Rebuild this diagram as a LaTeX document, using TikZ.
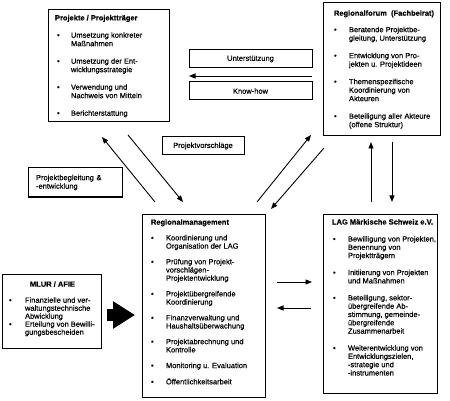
\documentclass[tikz,border=0pt]{standalone}
\usepackage{fontspec}
\setmainfont{Liberation Sans}
\newfontfamily\itf{Liberation Sans}[FakeBold=0.35]
\usetikzlibrary{arrows.meta}
\newcommand\bx{\textbullet}
\begin{document}
\begin{tikzpicture}[x=1pt,y=-1pt,
  box/.style={draw=black,line width=1pt,inner sep=0pt,outer sep=0pt,anchor=north west},
  txt/.style={inner sep=0pt,outer sep=0pt,anchor=base west,font=\itf\fontsize{7.5}{8.5}\selectfont},
  lbl/.style={box,font=\itf\fontsize{7.5}{8.5}\selectfont,align=center},
  arr/.style={line width=0.9pt,-{Triangle[length=6.5pt,width=5pt]}}]
\useasboundingbox[fill=white] (0,0) rectangle (450,401);

% boxes
\node[box,minimum width=121pt,minimum height=112pt] (pp) at (48,10) {};
\node[box,minimum width=117pt,minimum height=133pt] (rf) at (323,3) {};
\node[box,minimum width=123pt,minimum height=183pt] (rm) at (142,214) {};
\node[box,minimum width=114pt,minimum height=179pt] (lag) at (323,214) {};
\node[box,minimum width=99pt,minimum height=74pt] (ml) at (2,274) {};

\node[lbl,minimum width=123pt,minimum height=18pt] (un) at (189,50) {Unterstützung};
\node[lbl,minimum width=123pt,minimum height=18pt] (kh) at (189,82) {Know-how};
\node[lbl,minimum width=82pt,minimum height=18pt] (pv) at (162,137) {Projektvorschläge};
\node[box,minimum width=94pt,minimum height=29pt,text width=78pt,inner xsep=8pt,align=left,
  font=\itf\fontsize{7.5}{8.5}\selectfont] (pb) at (28,168) {Projektbegleitung \&\\-entwicklung};

% box contents
\node[txt] (pptx) at (55,20.4) {\begin{tabular}[t]{@{}p{16pt}@{}l@{}}
\multicolumn{2}{@{}l@{}}{\bfseries Projekte / Projektträger}\\[8.8pt]
\hspace*{2pt}\bx & Umsetzung konkreter\\ & Maßnahmen\\[9pt]
\hspace*{2pt}\bx & Umsetzung der Ent-\\ & wicklungsstrategie\\[9pt]
\hspace*{2pt}\bx & Verwendung und\\ & Nachweis von Mitteln\\[9pt]
\hspace*{2pt}\bx & Berichterstattung
\end{tabular}};

\node[txt] (rftx) at (334,15.7) {\begin{tabular}[t]{@{}p{15pt}@{}l@{}}
\multicolumn{2}{@{}l@{}}{\bfseries Regionalforum\ \ (Fachbeirat)}\\[8pt]
\bx & Beratende Projektbe-\\ & gleitung, Unterstützung\\[9pt]
\bx & Entwicklung von Pro-\\ & jekten u. Projektideen\\[9pt]
\bx & Themenspezifische\\ & Koordinierung von\\ & Akteuren\\[9pt]
\bx & Beteiligung aller Akteure\\ & (offene Struktur)
\end{tabular}};

\node[txt,font=\itf\fontsize{7.5}{8.2}\selectfont] (rmtx) at (151,224.7) {\begin{tabular}[t]{@{}p{15pt}@{}l@{}}
\multicolumn{2}{@{}l@{}}{\bfseries Regionalmanagement}\\[7.5pt]
\bx & Koordinierung und\\ & Organisation der LAG\\[7.5pt]
\bx & Prüfung von Projekt-\\ & vorschlägen-\\ & Projektentwicklung\\[7.5pt]
\bx & Projektübergreifende\\ & Koordinierung\\[7.5pt]
\bx & Finanzverwaltung und\\ & Haushaltsüberwachung\\[7.5pt]
\bx & Projektabrechnung und\\ & Kontrolle\\[7.5pt]
\bx & Monitoring u. Evaluation\\[7.5pt]
\bx & Öffentlichkeitsarbeit
\end{tabular}};

\node[txt,font=\itf\fontsize{7.5}{8.3}\selectfont] (lagtx) at (332,224.5) {\begin{tabular}[t]{@{}p{16pt}@{}l@{}}
\multicolumn{2}{@{}l@{}}{\bfseries LAG Märkische Schweiz e.V.}\\[8.7pt]
\hspace*{1pt}\bx & Bewilligung von Projekten,\\ & Benennung von\\ & Projektträgern\\[8.7pt]
\hspace*{1pt}\bx & Initiierung von Projekten\\ & und Maßnahmen\\[8.7pt]
\hspace*{1pt}\bx & Beteiligung, sektor-\\ & übergreifende Ab-\\ & stimmung, gemeinde-\\ & übergreifende\\ & Zusammenarbeit\\[8.7pt]
\hspace*{1pt}\bx & Weiterentwicklung von\\ & Entwicklungszielen,\\ & -strategie und\\ & -instrumenten
\end{tabular}};

\node[txt,font=\itf\fontsize{7.5}{8}\selectfont] (mltx) at (9,286.7) {\begin{tabular}[t]{@{}p{16pt}@{}l@{}}
\multicolumn{2}{@{}l@{}}{\hspace*{21pt}\bfseries MLUR / AFIE}\\[8pt]
\bx & Finanzielle und ver-\\ & waltungstechnische\\ & Abwicklung\\
\bx & Erteilung von Bewilli-\\ & gungsbescheiden
\end{tabular}};

% free arrow ends
\coordinate (a1s) at (155,202); \coordinate (a1e) at (102,137);
\coordinate (a2s) at (128,135); \coordinate (a2e) at (183,202);
\coordinate (a3s) at (257,202); \coordinate (a3e) at (311,135);
\coordinate (a4s) at (324,148); \coordinate (a4e) at (271,209);
\coordinate (v1s) at (371,202); \coordinate (v1e) at (371,142);
\coordinate (v2s) at (392,142); \coordinate (v2e) at (392,202);
\coordinate (h1s) at (277,282); \coordinate (h1e) at (312,282);
\coordinate (h2s) at (311,308); \coordinate (h2e) at (277,308);
\coordinate (k1s) at (312,76); \coordinate (k1e) at (189,76);

\draw[arr] (a1s) -- (a1e);
\draw[arr] (a2s) -- (a2e);
\draw[arr] (a3s) -- (a3e);
\draw[arr] (a4s) -- (a4e);
\draw[arr] (v1s) -- (v1e);
\draw[arr] (v2s) -- (v2e);
\draw[arr] (h1s) -- (h1e);
\draw[arr] (h2s) -- (h2e);
\draw[arr] (k1s) -- (k1e);

% big block arrow MLUR -> Regionalmanagement
\draw[line width=12pt,-{Triangle[length=22pt 0,width=26pt 0]},shorten <=6pt,shorten >=7pt]
  (ml.east |- 0,315) -- (rm.west |- 0,315);
\end{tikzpicture}
\end{document}
